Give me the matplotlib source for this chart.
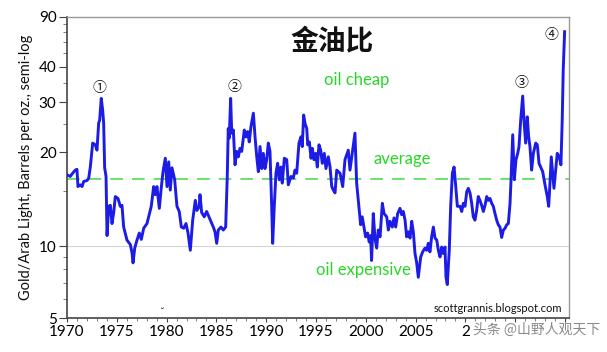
import numpy as np
import matplotlib
matplotlib.use('Agg')
import matplotlib.pyplot as plt
from matplotlib.ticker import FixedLocator, NullFormatter

# ---------------- data ----------------
years = [1970.00, 1970.33, 1970.50, 1970.83, 1971.00, 1971.10, 1971.34, 1971.51, 1971.68, 1972.01,
         1972.18, 1972.34, 1972.58, 1972.84, 1973.01, 1973.18, 1973.28, 1973.44, 1973.58, 1973.68,
         1973.78, 1973.92, 1974.02, 1974.19, 1974.35, 1974.52, 1974.69, 1974.85, 1975.12, 1975.35,
         1975.52, 1975.69, 1976.02, 1976.36, 1976.53, 1976.63, 1976.80, 1977.03, 1977.26, 1977.46,
         1977.70, 1978.03, 1978.20, 1978.46, 1978.70, 1978.86, 1979.03, 1979.27, 1979.44, 1979.64,
         1979.87, 1980.04, 1980.21, 1980.37, 1980.54, 1980.81, 1981.04, 1981.27, 1981.48, 1981.72,
         1981.95, 1982.15, 1982.38, 1982.62, 1982.88, 1983.05, 1983.28, 1983.35, 1983.52, 1983.78,
         1984.02, 1984.25, 1984.53, 1984.69, 1984.86, 1985.03, 1985.19, 1985.46, 1985.69, 1985.93,
         1986.09, 1986.19, 1986.29, 1986.43, 1986.54, 1986.70, 1986.87, 1987.04, 1987.20, 1987.37,
         1987.54, 1987.80, 1987.97, 1988.14, 1988.30, 1988.47, 1988.71, 1988.88, 1989.05, 1989.21,
         1989.38, 1989.55, 1989.71, 1989.88, 1990.05, 1990.21, 1990.38, 1990.55, 1990.65, 1990.81,
         1990.98, 1991.15, 1991.31, 1991.48, 1991.61, 1991.82, 1992.06, 1992.22, 1992.49, 1992.72,
         1992.89, 1993.06, 1993.29, 1993.49, 1993.62, 1993.76, 1993.90, 1994.07, 1994.17, 1994.33,
         1994.50, 1994.63, 1994.80, 1994.97, 1995.13, 1995.30, 1995.47, 1995.63, 1995.83, 1996.00,
         1996.23, 1996.41, 1996.58, 1996.74, 1996.91, 1997.08, 1997.41, 1997.68, 1997.91, 1998.24,
         1998.41, 1998.68, 1998.91, 1999.08, 1999.34, 1999.48, 1999.64, 1999.81, 1999.98, 2000.18,
         2000.34, 2000.48, 2000.58, 2000.75, 2000.92, 2001.09, 2001.25, 2001.43, 2001.66, 2001.83,
         2002.10, 2002.26, 2002.43, 2002.66, 2002.83, 2003.00, 2003.20, 2003.43, 2003.60, 2003.76,
         2003.94, 2004.10, 2004.27, 2004.44, 2004.61, 2004.77, 2004.94, 2005.11, 2005.27, 2005.51,
         2005.71, 2005.94, 2006.11, 2006.27, 2006.44, 2006.61, 2006.78, 2006.95, 2007.12, 2007.28,
         2007.45, 2007.62, 2007.78, 2007.95, 2008.05, 2008.18, 2008.38, 2008.52, 2008.69, 2008.86,
         2009.03, 2009.19, 2009.46, 2009.63, 2009.79, 2009.96, 2010.13, 2010.29, 2010.46, 2010.63,
         2010.79, 2010.96, 2011.13, 2011.29, 2011.46, 2011.63, 2011.80, 2011.97, 2012.14, 2012.30,
         2012.47, 2012.64, 2012.80, 2012.97, 2013.14, 2013.30, 2013.47, 2013.64, 2013.81, 2013.98,
         2014.15, 2014.31, 2014.48, 2014.58, 2014.75, 2014.91, 2015.08, 2015.25, 2015.38, 2015.55,
         2015.75, 2015.88, 2016.05, 2016.21, 2016.35, 2016.48, 2016.65, 2016.82, 2017.06, 2017.22,
         2017.39, 2017.56, 2017.76, 2017.99, 2018.22, 2018.36, 2018.49, 2018.62, 2018.76, 2018.89,
         2019.09, 2019.22, 2019.42, 2019.59, 2019.72, 2019.82, 2019.96]

ratio = [16.9, 16.7, 17.0, 17.5, 17.6, 15.5, 15.7, 15.5, 16.1, 16.2,
         16.5, 17.9, 21.5, 21.2, 20.3, 25.3, 25.9, 30.9, 28.1, 25.3,
         17.8, 16.7, 10.8, 13.4, 13.5, 11.8, 12.8, 14.4, 14.2, 13.4,
         13.5, 11.5, 10.45, 10.1, 9.35, 8.5, 9.8, 10.45, 11.0, 10.5,
         11.4, 11.8, 12.4, 13.4, 15.5, 14.6, 15.5, 13.2, 15.1, 17.3,
         19.1, 15.5, 18.6, 15.1, 17.8, 16.3, 13.4, 12.9, 11.5, 11.4,
         11.8, 11.0, 9.6, 12.1, 14.0, 13.0, 13.4, 14.6, 12.8, 12.4,
         12.9, 12.4, 11.8, 11.5, 11.1, 10.2, 11.25, 11.5, 11.25, 11.5,
         16.7, 24.2, 22.4, 30.9, 23.3, 23.9, 18.2, 20.1, 19.3, 20.6,
         20.1, 23.9, 22.6, 23.6, 21.7, 24.6, 27.4, 22.6, 19.3, 17.3,
         20.9, 17.7, 19.8, 17.7, 18.9, 21.5, 20.1, 13.4, 10.2, 13.4,
         17.1, 18.4, 16.3, 17.9, 15.9, 19.1, 18.9, 15.7, 16.7, 16.5,
         17.5, 17.1, 21.5, 22.6, 20.9, 27.0, 25.2, 24.2, 21.2, 21.7,
         19.1, 20.6, 18.9, 19.8, 17.9, 21.2, 20.3, 18.4, 19.8, 17.7,
         19.3, 17.9, 15.5, 15.1, 14.8, 17.5, 17.1, 15.5, 18.9, 20.3,
         17.5, 20.3, 23.3, 15.9, 13.0, 11.7, 12.4, 11.5, 10.7, 11.0,
         10.3, 10.8, 8.7, 12.7, 10.6, 9.8, 11.25, 10.7, 13.7, 12.7,
         12.4, 11.25, 12.0, 11.5, 12.3, 11.5, 12.7, 13.2, 12.6, 12.9,
         12.1, 10.7, 11.1, 10.6, 12.0, 11.1, 9.3, 8.5, 7.4, 9.0,
         9.45, 9.8, 9.6, 10.2, 9.45, 10.7, 11.5, 10.6, 10.45, 9.6,
         9.0, 9.9, 9.3, 9.9, 7.4, 6.9, 9.6, 13.4, 17.1, 17.9,
         15.5, 13.4, 13.4, 12.9, 13.7, 13.4, 14.9, 15.3, 14.8, 13.7,
         12.4, 12.1, 13.0, 14.4, 14.0, 13.5, 12.9, 13.5, 14.4, 14.0,
         14.2, 13.7, 13.4, 12.7, 12.1, 11.7, 11.5, 10.65, 11.25, 11.4,
         11.7, 11.8, 13.7, 16.3, 23.0, 16.3, 18.9, 19.8, 20.9, 25.9,
         31.5, 25.9, 21.5, 26.6, 22.6, 20.9, 17.5, 19.8, 21.5, 21.2,
         18.4, 17.9, 17.3, 15.7, 14.4, 13.4, 15.9, 19.3, 17.1, 15.3,
         17.9, 19.8, 19.3, 18.2, 25.9, 39.1, 70.9]

y_ticks = [5, 10, 20, 30, 40, 90]
y_minor = [6, 7, 8, 9, 15, 25, 35, 50, 60, 70, 80]
x_ticks = list(range(1970, 2021, 5))
# the labels from 2010 on are hidden under the watermark; only the "2" of 2010 shows
x_labels = ['1970', '1975', '1980', '1985', '1990', '1995', '2000', '2005', '2', '', '']
average = 16.4
marker_text = ['\u2460', '\u2461', '\u2462', '\u2463']
marker_x = [1973.3, 1986.8, 2015.65, 2018.65]
marker_y = [33.7, 34.0, 35.0, 67.0]

# ---------------- semi-log scale as drawn in the original ----------------
_cv = np.log10(np.array(y_ticks, float))
_cu = np.array([0, 72, 166, 216, 251, 301], float)
_s0 = (_cu[1] - _cu[0]) / (_cv[1] - _cv[0])
_s1 = (_cu[-1] - _cu[-2]) / (_cv[-1] - _cv[-2])


def fwd(v):
    lv = np.log10(np.clip(np.asarray(v, float), 1e-6, None))
    u = np.interp(lv, _cv, _cu)
    u = np.where(lv < _cv[0], _cu[0] + (lv - _cv[0]) * _s0, u)
    u = np.where(lv > _cv[-1], _cu[-1] + (lv - _cv[-1]) * _s1, u)
    return u


def inv(u):
    u = np.asarray(u, float)
    lv = np.interp(u, _cu, _cv)
    lv = np.where(u < _cu[0], _cv[0] + (u - _cu[0]) / _s0, lv)
    lv = np.where(u > _cu[-1], _cv[-1] + (u - _cu[-1]) / _s1, lv)
    return 10 ** lv


W, H = 607, 352
fig = plt.figure(figsize=(W / 100, H / 100), dpi=100)
fig.patch.set_facecolor('white')
ax = fig.add_axes([67 / W, 1 - 318 / H, (569 - 67) / W, (318 - 17) / H])

ax.set_yscale('function', functions=(fwd, inv))
ax.set_ylim(5, 90)
ax.set_xlim(1970, 2020.4)

ax.axhline(10, color='#cfd6e0', lw=0.8, zorder=1)
ax.axhline(average, color='#5ee05e', lw=1.3, dashes=(7, 5), zorder=2)
ax.plot(years, ratio, color='#1c1ce6', lw=2.1, zorder=3, solid_joinstyle='round')

tick_font = dict(family='Lato', size=11)
ax.yaxis.set_major_locator(FixedLocator(y_ticks))
ax.yaxis.set_minor_locator(FixedLocator(y_minor))
ax.yaxis.set_minor_formatter(NullFormatter())
ax.set_yticklabels([str(t) for t in y_ticks], fontdict=tick_font)
ax.xaxis.set_major_locator(FixedLocator(x_ticks))
ax.xaxis.set_minor_locator(FixedLocator(list(range(1970, 2021))))
ax.set_xticklabels(x_labels, fontdict=tick_font)

ax.tick_params(axis='y', which='major', length=6, width=0.8, color='#444444', pad=1.5)
ax.tick_params(axis='y', which='minor', length=3, width=0.6, color='#666666')
ax.tick_params(axis='x', which='major', length=3, width=0.8, color='#444444', pad=2)
ax.tick_params(axis='x', which='minor', length=2, width=0.6, color='#666666')

for s in ['left', 'bottom']:
    ax.spines[s].set_color('#444444')
    ax.spines[s].set_linewidth(1.2)
for s in ['top', 'right']:
    ax.spines[s].set_color('#999999')
    ax.spines[s].set_linewidth(1.0)

fig.text(26 / W, 1 - 167 / H, 'Gold/Arab Light, Barrels per oz., semi-log',
         rotation=90, ha='center', va='center', family='Lato', fontsize=10.5, color='#111111')

fig.text(332 / W, 1 - 42 / H, '金油比', ha='center', va='center',
         family=['Noto Sans CJK SC', 'DejaVu Sans'], fontweight='bold', fontsize=20, color='#111111')
green = '#26d826'
fig.text(357 / W, 1 - 80 / H, 'oil cheap', ha='center', va='center', family='Lato', fontsize=12, color=green)
fig.text(402 / W, 1 - 159 / H, 'average', ha='center', va='center', family='Lato', fontsize=12, color=green)
fig.text(363 / W, 1 - 270 / H, 'oil expensive', ha='center', va='center', family='Lato', fontsize=12, color=green)
fig.text(498 / W, 1 - 308 / H, 'scottgrannis.blogspot.com', ha='center', va='center',
         family='Lato', fontsize=8, color='#111111')
fig.text(162 / W, 1 - 313 / H, '\u02d8', ha='center', va='center', family='DejaVu Sans', fontsize=7, color='#333333')

for t, xx, yy in zip(marker_text, marker_x, marker_y):
    ax.text(xx, yy, t, ha='center', va='center', fontsize=10,
            family=['DejaVu Serif', 'Noto Sans CJK SC'], color='#111111', zorder=4)

fig.text(537 / W, 1 - 330 / H, '头条 @山野人观天下', ha='center', va='center',
         family=['Noto Sans CJK SC', 'DejaVu Sans'], fontsize=10, color='#8a8a8a')

fig.savefig('out.png', dpi=100, facecolor='white')
